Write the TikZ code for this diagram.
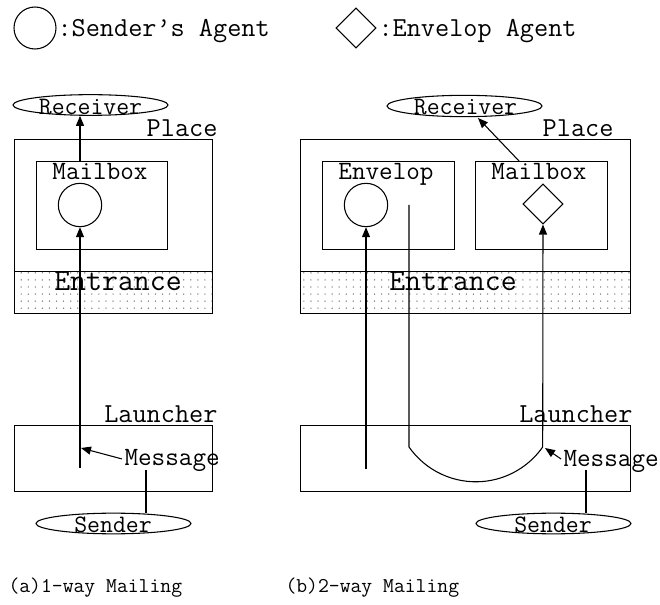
\documentclass[tikz,border=0pt]{standalone}
\usepackage{fontspec}
\usetikzlibrary{shapes.geometric,patterns.meta,arrows.meta,calc}

\tikzset{
  lbl/.style={inner sep=0pt, font=\ttfamily\fontsize{20.6}{23}\selectfont},
  smalllbl/.style={inner sep=0pt, font=\ttfamily\fontsize{19.8}{22}\selectfont},
  ovaltxt/.style={inner sep=0pt, font=\ttfamily\fontsize{18.8}{21}\selectfont},
  enttxt/.style={inner sep=0pt, font=\ttfamily\fontsize{23.2}{26}\selectfont},
  captxt/.style={inner sep=0pt, font=\ttfamily\fontsize{15.8}{18}\selectfont},
  frame/.style={draw, inner sep=0pt, anchor=north west},
  entband/.style={frame, pattern={Dots[distance=5.3pt, radius=0.55pt]}, pattern color=black!55},
  oval/.style={draw, ellipse, inner sep=0pt, minimum width=116.25pt, minimum height=15.5pt},
  agent/.style={draw, circle, inner sep=0pt, minimum size=32.5pt},
  envagent/.style={draw, diamond, inner sep=0pt, minimum width=30pt, minimum height=30pt},
  flow/.style={-{Triangle[length=7.5pt, width=6pt]}},
}

\begin{document}
\begin{tikzpicture}[x=0.75pt, y=-0.75pt, line width=0.8pt]
\useasboundingbox (0,0) rectangle (660,605);

% ---------- legend ----------
\node[agent, minimum size=31.5pt] (legA) at (35,28) {};
\node[lbl, anchor=base west] (legAt) at (57,37) {:Sender’s Agent};
\node[envagent] (legE) at (356,28) {};
\node[lbl, anchor=base west] (legEt) at (378,37) {:Envelop Agent};

% ---------- (a) 1-way mailing ----------
\node[oval] (recvA) at (90.5,105) {};
\node[ovaltxt, anchor=base] (recvAt) at (90.5,115) {Receiver};

\node[frame, minimum width=148.5pt, minimum height=99pt] (placeA) at (14,139) {};
\node[lbl, anchor=base east] (placeAt) at (218,137) {Place};
\node[entband, minimum width=148.5pt, minimum height=31.5pt] (entA) at (14,271) {};
\node[enttxt, anchor=base] (entAt) at (118,291) {Entrance};

\node[frame, minimum width=98.25pt, minimum height=66pt] (mbA) at (36,161) {};
\node[smalllbl, anchor=base] (mbAt) at (100,180) {Mailbox};
\node[agent] (agA) at (80,205) {};

\node[frame, minimum width=148.5pt, minimum height=49.5pt] (lnA) at (14,425) {};
\node[lbl, anchor=base east] (lnAt) at (218,423) {Launcher};
\node[smalllbl, anchor=base west] (msgA) at (124,465) {Message};

\node[oval] (sendA) at (113.5,523.5) {};
\node[ovaltxt, anchor=base] (sendAt) at (113,532) {Sender};

\coordinate (startA) at (80,468);
\coordinate (msgTipA) at (81,448);
\coordinate (msgLegA) at (146,470);

\draw[flow] (startA) -- (agA.south);
\draw[flow] (agA |- mbA.north) -- (agA |- recvA.south);
\draw[flow] ($(msgA.west)+(-2,-1)$) -- (msgTipA);
\draw (msgLegA) -- (msgLegA |- sendA.north);

\node[captxt, anchor=base west] (capA) at (8,592) {(a)1-way Mailing};

% ---------- (b) 2-way mailing ----------
\node[oval, minimum height=16pt] (recvB) at (464.5,106) {};
\node[ovaltxt, anchor=base] (recvBt) at (465.5,115) {Receiver};

\node[frame, minimum width=247.5pt, minimum height=99pt] (placeB) at (300,139) {};
\node[lbl, anchor=base east] (placeBt) at (614,137) {Place};
\node[entband, minimum width=247.5pt, minimum height=31.5pt] (entB) at (300,271) {};
\node[enttxt, anchor=base] (entBt) at (453,291) {Entrance};

\node[frame, minimum width=99pt, minimum height=66pt] (envB) at (322,161) {};
\node[smalllbl, anchor=base] (envBt) at (386,180) {Envelop};
\node[agent] (agB) at (366,205) {};

\node[frame, minimum width=99pt, minimum height=66pt] (mbB) at (475,161) {};
\node[smalllbl, anchor=base] (mbBt) at (539,180) {Mailbox};
\node[envagent] (eaB) at (543,204) {};

\node[frame, minimum width=247.5pt, minimum height=49.5pt] (lnB) at (300,425) {};
\node[lbl, anchor=base east] (lnBt) at (633,423) {Launcher};
\node[smalllbl, anchor=base west] (msgB) at (563,466) {Message};

\node[oval] (sendB) at (553.5,523.5) {};
\node[ovaltxt, anchor=base] (sendBt) at (553,532) {Sender};

\coordinate (startB) at (366,469);
\coordinate (retTop) at (409,205);
\coordinate (retL) at (409,447);
\coordinate (retR) at (543,447);
\coordinate (mbOut) at (519,161);
\coordinate (recvIn) at (478,118);
\coordinate (msgLegB) at (586,470);

\draw[flow] (startB) -- (agB.south);
\draw[flow] (retTop) -- (retL) arc[start angle=145, end angle=35, radius=81.6] -- (eaB.south);
\draw[flow] ($(msgB.west)+(-2,-2)$) -- ($(retR)+(2,1)$);
\draw[flow] (mbOut) -- (recvIn);
\draw (msgLegB) -- (msgLegB |- sendB.north);

\node[captxt, anchor=base west] (capB) at (285,592) {(b)2-way Mailing};
\end{tikzpicture}
\end{document}
